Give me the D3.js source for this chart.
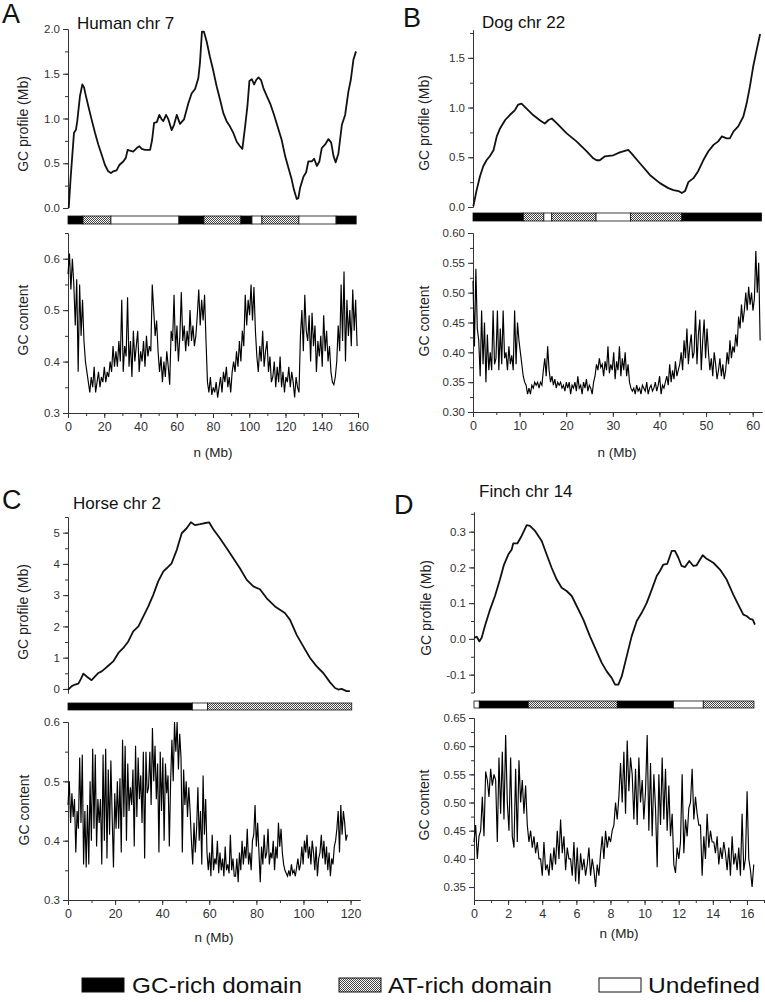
<!DOCTYPE html>
<html>
<head>
<meta charset="utf-8">
<script src="https://cdn.jsdelivr.net/npm/d3@7"></script>
<style>
  body { margin: 0; background: #fff; }
  text { font-family: "Liberation Sans", Arial, sans-serif; }
</style>
</head>
<body>
<div class="chart"></div>
<script>
// ---- data ----
// GC profile: [position (Mb), profile (Mb)]
const humanProfile = [[0.4,0.0],[1.5,0.35],[3.3,0.84],[4.4,0.875],[5.1,0.97],[6.6,1.25],[7.9,1.38],[8.8,1.35],[9.9,1.25],[11.2,1.14],[13.0,0.99],[14.9,0.84],[16.7,0.71],[18.5,0.60],[20.4,0.48],[22.2,0.41],[23.7,0.39],[25.0,0.41],[26.8,0.42],[28.3,0.48],[30.5,0.52],[31.9,0.56],[32.9,0.65],[34.2,0.64],[36.0,0.63],[37.9,0.67],[39.4,0.69],[40.7,0.66],[42.5,0.65],[45.3,0.65],[46.4,0.76],[47.5,0.95],[49.0,0.96],[50.4,1.04],[51.7,0.99],[52.6,0.97],[54.1,1.04],[55.4,0.99],[57.2,0.87],[58.5,0.93],[60.0,1.04],[61.8,0.94],[64.0,0.99],[66.4,1.17],[68.2,1.28],[70.1,1.33],[71.9,1.45],[72.8,1.62],[73.9,1.97],[75.0,1.97],[76.5,1.86],[78.3,1.69],[80.2,1.53],[82.0,1.36],[83.9,1.21],[85.7,1.06],[87.5,0.97],[89.4,0.91],[91.2,0.84],[93.1,0.74],[94.9,0.69],[96.2,0.66],[97.7,0.91],[99.0,1.14],[100.1,1.42],[101.4,1.44],[102.7,1.38],[103.8,1.43],[105.1,1.46],[106.5,1.43],[107.8,1.34],[109.7,1.25],[111.5,1.17],[113.7,1.04],[116.1,0.88],[117.9,0.76],[119.8,0.58],[121.6,0.45],[123.4,0.32],[124.7,0.20],[126.2,0.10],[127.1,0.11],[128.0,0.22],[129.9,0.35],[131.4,0.40],[132.6,0.52],[134.5,0.52],[135.8,0.55],[137.3,0.47],[138.7,0.52],[140.0,0.67],[141.9,0.71],[143.7,0.77],[145.2,0.73],[146.5,0.58],[147.7,0.51],[149.2,0.61],[151.1,0.93],[152.9,1.04],[154.7,1.30],[156.0,1.43],[157.5,1.66],[158.9,1.75]];

const dogProfile = [[0.07,0.007],[0.78,0.17],[1.5,0.31],[2.2,0.41],[2.9,0.47],[3.6,0.51],[4.4,0.57],[5.1,0.71],[5.8,0.79],[6.9,0.875],[7.9,0.925],[9.0,0.975],[9.7,1.03],[10.4,1.04],[11.5,0.99],[12.9,0.925],[14.4,0.87],[15.4,0.84],[16.2,0.875],[16.9,0.89],[18.0,0.84],[20.1,0.74],[22.2,0.66],[24.4,0.56],[25.8,0.49],[26.5,0.47],[27.2,0.47],[28.3,0.51],[30.1,0.52],[31.5,0.55],[33.3,0.575],[34.0,0.54],[35.8,0.44],[38.0,0.32],[40.1,0.24],[41.9,0.19],[43.0,0.17],[44.1,0.16],[44.8,0.14],[45.5,0.16],[46.2,0.25],[47.3,0.29],[48.3,0.36],[49.4,0.47],[50.5,0.56],[51.6,0.625],[52.6,0.66],[53.4,0.71],[54.4,0.69],[55.1,0.69],[55.9,0.76],[56.9,0.81],[58.0,0.91],[58.7,1.04],[59.4,1.21],[60.1,1.41],[60.9,1.59],[61.6,1.74]];

const horseProfile = [[0.1,-0.02],[1.6,0.09],[3.0,0.14],[4.4,0.17],[5.5,0.32],[6.5,0.49],[8.2,0.38],[10.0,0.28],[11.5,0.40],[12.9,0.51],[14.3,0.56],[15.7,0.65],[17.1,0.74],[19.2,0.88],[21.4,1.15],[23.5,1.31],[25.6,1.52],[27.7,1.84],[29.9,2.0],[32.0,2.32],[34.1,2.64],[36.2,3.01],[38.3,3.44],[40.5,3.76],[41.9,3.86],[44.0,4.02],[46.2,4.45],[48.3,4.98],[50.4,5.14],[52.2,5.33],[53.9,5.24],[56.1,5.27],[57.7,5.30],[59.9,5.33],[61.7,5.11],[64.5,4.82],[67.4,4.50],[70.2,4.18],[73.0,3.86],[75.9,3.49],[78.7,3.28],[81.5,3.19],[84.4,2.90],[87.9,2.64],[92.1,2.43],[94.3,2.21],[97.1,1.73],[99.9,1.36],[102.8,0.99],[105.6,0.72],[108.4,0.51],[111.3,0.21],[113.4,0.03],[114.8,-0.02],[116.2,0.0],[118.3,-0.07],[119.7,-0.07]];

const finchProfile = [[0.0,0.003],[0.16,0.006],[0.31,-0.007],[0.45,0.003],[0.64,0.036],[0.94,0.082],[1.23,0.12],[1.52,0.166],[1.76,0.208],[2.01,0.236],[2.21,0.25],[2.3,0.267],[2.54,0.267],[2.79,0.288],[3.09,0.318],[3.28,0.316],[3.58,0.302],[3.97,0.274],[4.26,0.236],[4.55,0.199],[4.85,0.166],[5.14,0.143],[5.43,0.134],[5.73,0.12],[6.02,0.092],[6.41,0.054],[6.80,0.007],[7.19,-0.035],[7.49,-0.067],[7.78,-0.091],[8.07,-0.109],[8.27,-0.128],[8.46,-0.128],[8.66,-0.105],[8.95,-0.049],[9.24,0.007],[9.54,0.05],[9.83,0.073],[10.12,0.10],[10.42,0.138],[10.71,0.176],[10.90,0.19],[11.10,0.208],[11.33,0.21],[11.59,0.246],[11.78,0.246],[11.98,0.227],[12.17,0.204],[12.37,0.201],[12.62,0.218],[12.86,0.204],[13.05,0.206],[13.25,0.222],[13.41,0.234],[13.64,0.224],[14.03,0.213],[14.42,0.194],[14.81,0.166],[15.20,0.124],[15.49,0.096],[15.79,0.068],[15.98,0.064],[16.18,0.056],[16.34,0.054],[16.47,0.04]];

// GC content in equally spaced windows along the chromosome
const humanContent = [.57,.61,.54,.60,.55,.47,.56,.38,.55,.45,.52,.44,.40,.38,.36,
  .34,.37,.35,.39,.34,.36,.38,.35,.37,.36,.39,.36,.38,.37,.40,.38,.43,.39,
  .42,.39,.44,.40,.52,.38,.43,.41,.525,.39,.44,.37,.46,.40,.43,.46,.38,.42,.40,.44,.39,.45,.41,.43,.42,
  .55,.50,.45,.48,.42,.38,.41,.36,.40,.37,.42,.39,.355,.46,.44,.53,.42,.47,.40,.45,.535,
  .44,.47,.42,.46,.43,.50,.44,.47,.43,.45,.49,.54,.47,.52,.48,.53,.44,
  .36,.34,.37,.335,.35,.34,.36,.33,.35,.37,.34,.38,.36,.39,.35,.37,.34,.38,
  .40,.38,.42,.39,.44,.40,.46,.43,.53,.47,.52,.49,.55,.48,.545,
  .46,.41,.38,.43,.40,.46,.39,.42,
  .44,.38,.41,.36,.37,.40,.35,.39,.36,.41,.35,.38,.34,.37,.36,.39,.35,.38,.36,.33,.37,.35,.34,
  .45,.50,.42,.53,.46,.44,.49,.40,.495,.43,.47,.38,.44,.41,.45,.39,.49,.42,.46,.40,.43,
  .38,.36,.355,.37,.40,.47,.42,.55,.44,.575,.40,.52,.45,.50,.43,.54,.46,.52,.43];

const dogContent = [.52,.41,.54,.44,.42,.36,.47,.38,.45,.35,.43,.37,.40,.37,.47,.38,.39,
  .47,.37,.44,.38,.47,.39,.40,.37,.41,.38,.395,.37,.47,.38,.45,.42,.40,.38,.36,
  .35,.345,.33,.34,.33,.345,.34,.35,.345,.35,.34,.35,.345,.37,.39,.36,.41,.37,
  .35,.36,.345,.355,.34,.35,.345,.35,.34,.345,.335,.35,
  .34,.35,.33,.345,.34,.35,.335,.36,.34,.345,.33,.35,.34,.355,.335,.345,.34,.33,.35,.36,
  .38,.37,.39,.375,.38,.36,.385,.37,.41,.365,.38,.37,.40,.355,.385,.37,.41,.36,.39,.37,.40,.36,.38,
  .35,.34,.335,.34,.33,.345,.335,.34,.33,.345,.34,.335,.35,.33,.34,.345,.335,.34,.35,.335,.345,.36,.33,.345,.34,.35,
  .36,.345,.38,.35,.37,.355,.385,.36,.37,.38,.40,.37,.42,.39,.44,.38,.41,.43,.39,
  .40,.47,.38,.43,.455,.37,.42,.455,.39,.44,.40,.37,.39,.36,.40,.38,.355,.37,.39,.36,.38,.355,
  .37,.40,.38,.42,.39,.41,.40,.43,.41,.46,.44,.48,.45,.47,.50,.47,.51,.48,.50,.47,.49,.57,.50,.55,.42];

const horseContent = [.46,.50,.43,.48,.44,.47,.38,.45,.42,.54,.43,.545,.36,.45,.355,.46,.36,
  .50,.40,.555,.42,.545,.39,.47,.43,.47,.36,.545,.40,.555,.37,.52,.41,.535,.44,.355,.48,.42,
  .50,.42,.505,.38,.57,.44,.56,.40,.53,.45,.49,.46,.52,.39,.56,.44,.54,.47,.51,.43,.55,.37,.55,.48,
  .49,.55,.46,.59,.50,.56,.47,.53,.38,.55,.45,.54,.40,.53,.48,.51,.39,.50,
  .57,.50,.60,.55,.60,.52,.58,.54,.38,.52,.46,.50,.44,.49,.45,.40,.36,.43,.38,
  .42,.49,.40,.45,.36,.51,.41,.47,.38,.35,.38,.34,.41,.35,.37,
  .36,.40,.345,.38,.35,.37,.34,.39,.35,.36,.345,.41,.35,.37,.34,
  .34,.37,.33,.38,.35,.40,.36,.39,.37,.42,.36,.38,.35,.40,.41,.46,.39,.43,
  .38,.33,.39,.36,.41,.37,.38,.42,.36,.38,.37,.40,.35,.39,.37,.43,.39,.42,.38,
  .36,.35,.345,.34,.35,.34,.36,.345,.35,.34,.355,.37,.35,.36,
  .39,.36,.40,.38,.41,.37,.39,.36,.40,.38,.35,.39,.34,.37,.38,.41,.37,.40,.36,.39,.35,.38,.34,.37,.36,.39,
  .40,.42,.45,.38,.46,.41,.45,.43,.40,.41];

const finchContent = [.43,.46,.40,.44,.45,.51,.44,.555,.54,.51,.56,.53,.55,.54,.43,.58,.48,.59,.47,.62,
  .50,.45,.58,.44,.42,.56,.43,.575,.50,.54,.48,.53,.46,.43,.45,.42,.44,.41,.43,.40,
  .40,.37,.43,.38,.39,.37,.41,.38,.42,.39,.45,.40,.47,.41,.44,.38,.42,.40,
  .40,.37,.43,.36,.42,.355,.41,.38,.40,.37,.39,.42,.37,.40,.38,.35,.39,.37,
  .41,.44,.40,.45,.42,.44,.43,.45,.46,.50,.47,.51,.57,.50,.59,.48,.61,.52,.58,.55,
  .47,.56,.46,.58,.50,.54,.47,.52,.62,.45,.57,.44,.55,.49,.385,.55,.46,.58,
  .47,.56,.45,.53,.44,.48,.39,.375,.42,.40,.43,.55,.41,.47,.44,.49,.50,.56,.47,.51,.48,.46,
  .46,.37,.44,.40,.48,.42,.45,.43,.43,.41,.44,.39,.42,.40,.43,.41,
  .38,.42,.37,.44,.39,.41,.38,.42,.37,.48,.38,.40,.52,.40,.38,.35,.39];

// domain segmentation: breakpoints (Mb) and the class of each segment
const humanBreaks = [0, 8.3, 23.7, 61.2, 75.0, 95.4, 101.5, 107.0, 127.4, 147.9, 159];
const humanDomains = ["GC", "AT", "UN", "GC", "AT", "GC", "UN", "AT", "UN", "GC"];
const dogBreaks = [0, 10.8, 15.2, 16.9, 26.4, 33.8, 44.8, 61.9];
const dogDomains = ["GC", "AT", "UN", "AT", "UN", "AT", "GC"];
const horseBreaks = [0, 52.8, 59.3, 120.5];
const horseDomains = ["GC", "UN", "AT"];
const finchBreaks = [0, 0.31, 3.18, 8.40, 11.69, 13.44, 16.41];
const finchDomains = ["UN", "GC", "AT", "GC", "UN", "AT"];

const legendLabels = ["GC-rich domain", "AT-rich domain", "Undefined"];

// ---- drawing ----
const svg = d3.select(".chart").append("svg")
  .attr("width", 765).attr("height", 1002)
  .style("background", "#fff");

const defs = svg.append("defs");
const hatch = defs.append("pattern")
  .attr("id", "hatch").attr("patternUnits", "userSpaceOnUse")
  .attr("width", 2).attr("height", 2);
hatch.append("rect").attr("width", 2).attr("height", 2).attr("fill", "#fff");
hatch.append("rect").attr("width", 1).attr("height", 1).attr("fill", "#444");
hatch.append("rect").attr("x", 1).attr("y", 1).attr("width", 1).attr("height", 1).attr("fill", "#444");

const domainFill = { GC: "#000", AT: "url(#hatch)", UN: "#fff" };

const panels = [
  { letter: "A", lpos: [2, 23], title: "Human chr 7", tpos: [77, 29],
    xr: [68, 358], xMax: 160, xMajor: 20, xMinor: 10, xLabel: [213, 457],
    profile: humanProfile, content: humanContent, contentEnd: 159.5,
    breaks: humanBreaks, domains: humanDomains, bar: [216, 8],
    top: { r: [208, 29], d: [0, 2], major: 0.5, minor: 0.25, dec: 1, lab: [23, 124] },
    bot: { r: [413, 233], d: [0.3, 0.65], major: 0.1, minor: 0.05, dec: 1, lab: [23, 320] } },
  { letter: "B", lpos: [403, 27], title: "Dog chr 22", tpos: [482, 28],
    xr: [473, 762], xMax: 62, xMajor: 10, xMinor: 5, xLabel: [617, 457],
    profile: dogProfile, content: dogContent, contentEnd: 61.6,
    breaks: dogBreaks, domains: dogDomains, bar: [213, 8],
    top: { r: [207, 30], d: [0, 1.78], major: 0.5, minor: 0.25, dec: 1, lab: [424, 123] },
    bot: { r: [412, 233], d: [0.3, 0.6], major: 0.05, minor: 0.025, dec: 2, lab: [424, 321] } },
  { letter: "C", lpos: [2, 509], title: "Horse chr 2", tpos: [73, 509],
    xr: [68, 360], xMax: 124, xMajor: 20, xMinor: 10, xLabel: [214, 942],
    profile: horseProfile, content: horseContent, contentEnd: 118.6,
    breaks: horseBreaks, domains: horseDomains, bar: [703, 7],
    top: { r: [693, 517], d: [-0.13, 5.5], major: 1, minor: 0.5, dec: 0, lab: [23, 612] },
    bot: { r: [900, 722], d: [0.3, 0.6], major: 0.1, minor: 0.05, dec: 1, lab: [24, 810] } },
  { letter: "D", lpos: [394, 514], title: "Finch chr 14", tpos: [479, 497],
    xr: [474, 764], xMax: 17, xMajor: 2, xMinor: 1, xLabel: [619, 938],
    profile: finchProfile, content: finchContent, contentEnd: 16.4,
    breaks: finchBreaks, domains: finchDomains, bar: [701, 7],
    top: { r: [692.5, 512], d: [-0.15, 0.355], major: 0.1, minor: 0.05, dec: 1, lab: [426, 608] },
    bot: { r: [900, 718], d: [0.327, 0.65], major: 0.05, minor: 0.025, dec: 2, lab: [424, 805] } }
];

function ticksBetween(d, step) {
  // tick values that are multiples of step inside the domain
  const out = [];
  const start = Math.ceil(d[0] / step - 1e-6);
  const stop = Math.floor(d[1] / step + 1e-6);
  for (let k = start; k <= stop; k++) out.push(+(k * step).toFixed(4));
  return out;
}

function styleAxis(g) {
  g.select(".domain").attr("stroke", "#333").attr("stroke-width", 1);
  g.selectAll(".tick line").attr("stroke", "#333");
  g.selectAll(".tick text").attr("fill", "#333").style("font-size", "11.5px");
}

function drawYAxis(cfg, yScale, x0, spec) {
  const fmt = (v) => Math.abs(v) < 1e-9 ? (0).toFixed(spec.dec) : v.toFixed(spec.dec);
  svg.append("g")
    .attr("transform", `translate(${x0},0)`)
    .call(d3.axisLeft(yScale).tickValues(ticksBetween(spec.d, spec.minor)).tickSize(3).tickFormat("").tickSizeOuter(0))
    .call(styleAxis);
  svg.append("g")
    .attr("transform", `translate(${x0},0)`)
    .call(d3.axisLeft(yScale).tickValues(ticksBetween(spec.d, spec.major)).tickSize(5).tickPadding(3).tickFormat(fmt).tickSizeOuter(0))
    .call(styleAxis);

  svg.append("text")
    .attr("transform", `translate(${spec.lab[0]},${spec.lab[1]}) rotate(-90)`)
    .attr("text-anchor", "middle")
    .attr("dy", "0.35em")
    .style("font-size", "14px")
    .attr("fill", "#222")
    .text(spec === cfg.top ? "GC profile (Mb)" : "GC content");
}

function drawPanel(cfg) {
  const x = d3.scaleLinear().domain([0, cfg.xMax]).range(cfg.xr);
  const yTop = d3.scaleLinear().domain(cfg.top.d).range(cfg.top.r);
  const yBot = d3.scaleLinear().domain(cfg.bot.d).range(cfg.bot.r);

  // panel letter and title
  svg.append("text").attr("x", cfg.lpos[0]).attr("y", cfg.lpos[1])
    .style("font-size", "27px").attr("fill", "#111").text(cfg.letter);
  svg.append("text").attr("x", cfg.tpos[0]).attr("y", cfg.tpos[1])
    .style("font-size", "17px").attr("fill", "#111").text(cfg.title);

  // GC profile
  drawYAxis(cfg, yTop, cfg.xr[0], cfg.top);
  svg.append("path")
    .datum(cfg.profile)
    .attr("fill", "none")
    .attr("stroke", "#111")
    .attr("stroke-width", 1.8)
    .attr("stroke-linejoin", "round")
    .attr("d", d3.line().x((d) => x(d[0])).y((d) => yTop(d[1])));

  // domain bar
  const segs = cfg.domains.map((t, i) => ({ t, a: cfg.breaks[i], b: cfg.breaks[i + 1] }));
  svg.append("g").selectAll("rect")
    .data(segs)
    .enter()
    .append("rect")
    .attr("x", (d) => x(d.a))
    .attr("y", cfg.bar[0])
    .attr("width", (d) => x(d.b) - x(d.a))
    .attr("height", cfg.bar[1])
    .attr("fill", (d) => domainFill[d.t])
    .attr("stroke", "#111")
    .attr("stroke-width", 0.8);

  // GC content
  drawYAxis(cfg, yBot, cfg.xr[0], cfg.bot);
  const step = cfg.contentEnd / (cfg.content.length - 1);
  svg.append("path")
    .datum(cfg.content)
    .attr("fill", "none")
    .attr("stroke", "#000")
    .attr("stroke-width", 1.15)
    .attr("d", d3.line().x((d, i) => x(i * step)).y((d) => yBot(d)));

  // x axis
  const y0 = cfg.bot.r[0];
  svg.append("g")
    .attr("transform", `translate(0,${y0})`)
    .call(d3.axisBottom(x).tickValues(ticksBetween([0, cfg.xMax], cfg.xMinor)).tickSize(3).tickFormat("").tickSizeOuter(0))
    .call(styleAxis);
  svg.append("g")
    .attr("transform", `translate(0,${y0})`)
    .call(d3.axisBottom(x).tickValues(ticksBetween([0, cfg.xMax], cfg.xMajor)).tickSize(5).tickPadding(4).tickFormat(d3.format("d")).tickSizeOuter(0))
    .call(styleAxis)
    .call((g) => g.selectAll(".tick text").style("font-size", "12.5px"));

  svg.append("text")
    .attr("x", cfg.xLabel[0]).attr("y", cfg.xLabel[1])
    .attr("text-anchor", "middle")
    .style("font-size", "13.5px")
    .attr("fill", "#222")
    .text("n (Mb)");
}

panels.forEach(drawPanel);

// legend
const legendKeys = ["GC", "AT", "UN"];
const legendBox = [82, 339, 599];
const legendText = [132, 388, 648];
const legendWidth = [170, 164, 112];
legendKeys.forEach((k, i) => {
  svg.append("rect")
    .attr("x", legendBox[i]).attr("y", 978)
    .attr("width", 42).attr("height", 14)
    .attr("fill", domainFill[k])
    .attr("stroke", "#111").attr("stroke-width", 1);
  svg.append("text")
    .attr("x", legendText[i]).attr("y", 993)
    .attr("textLength", legendWidth[i])
    .attr("lengthAdjust", "spacingAndGlyphs")
    .style("font-size", "22px")
    .attr("fill", "#111")
    .text(legendLabels[i]);
});
</script>
</body>
</html>
